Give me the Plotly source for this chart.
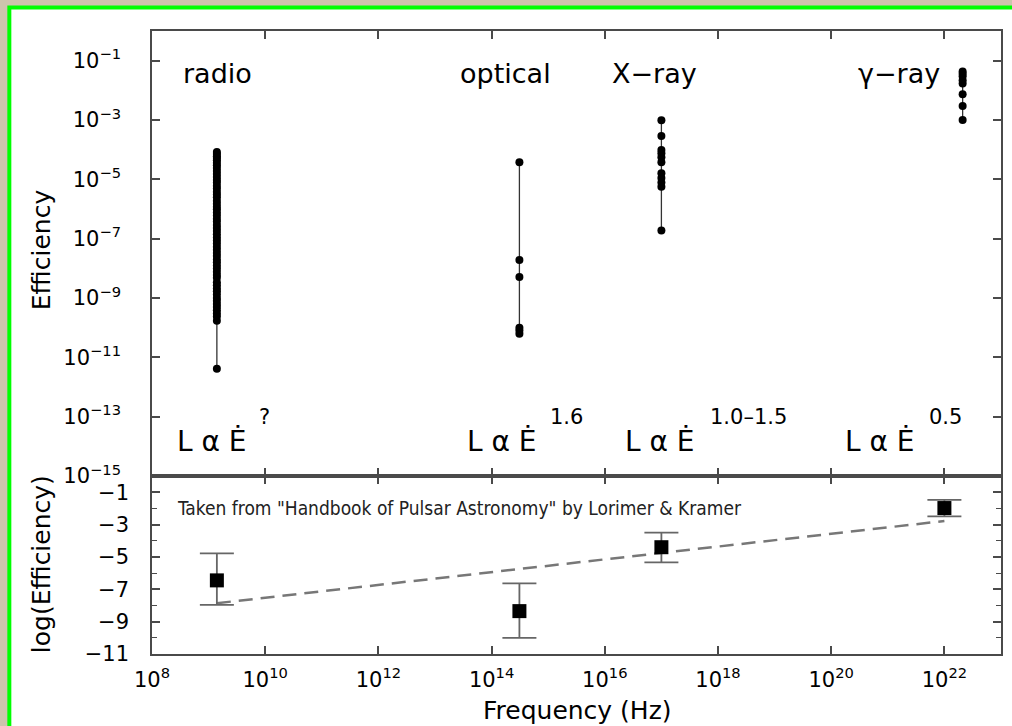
import plotly.graph_objects as go

# ---- data -------------------------------------------------------------
# Top panel: efficiency of individual pulsars in each waveband
radio_freq = 1.4e9
radio_eff = [8.3e-5, 7.1e-5, 6.0e-5, 5.2e-5, 4.4e-5, 3.6e-5, 3.0e-5, 2.4e-5,
             1.9e-5, 1.5e-5, 1.2e-5, 9.5e-6, 7.8e-6, 6.1e-6, 4.9e-6, 3.8e-6,
             3.1e-6, 2.5e-6, 1.9e-6, 1.5e-6, 1.2e-6, 9.8e-7, 7.6e-7, 6.0e-7,
             4.7e-7, 3.8e-7, 2.9e-7, 2.3e-7, 1.8e-7, 1.4e-7, 1.1e-7, 8.7e-8,
             6.9e-8, 5.3e-8, 4.2e-8, 3.3e-8, 2.6e-8, 2.0e-8, 1.6e-8, 1.25e-8,
             9.8e-9, 7.7e-9, 6.0e-9, 4.8e-9, 3.4e-9, 2.7e-9, 2.1e-9, 1.7e-9,
             1.3e-9, 1.0e-9, 8.1e-10, 6.3e-10, 5.0e-10, 3.9e-10, 3.0e-10,
             2.4e-10, 1.7e-10, 4.1e-12]

optical_freq = 3.1e14
optical_eff = [3.8e-5, 1.9e-8, 5.1e-9, 1.0e-10, 8.0e-11, 6.3e-11]

xray_freq = 1.0e17
xray_eff = [9.8e-4, 2.9e-4, 9.8e-5, 7.6e-5, 5.6e-5, 3.8e-5, 1.6e-5, 1.1e-5,
            7.8e-6, 5.6e-6, 1.9e-7]

gamma_freq = 2.1e22
gamma_eff = [4.3e-2, 3.6e-2, 3.0e-2, 2.2e-2, 1.7e-2, 7.4e-3, 2.95e-3, 1.0e-3]

# Bottom panel: mean log(efficiency) per band with spread
band_freq = [1.4e9, 3.1e14, 1.0e17, 1.0e22]
band_logeff = [-6.45, -8.35, -4.40, -1.98]
band_upper = [-4.78, -6.63, -3.50, -1.48]
band_lower = [-7.97, -10.00, -5.34, -2.50]

# Linear fit of log(efficiency) against log(frequency)
fit_freq = [1.4e9, 1.0e22]
fit_logeff = [-7.86, -2.78]

# Band labels and spin-down scaling exponents
band_names = ["radio", "optical", "X\u2212ray", "\u03b3\u2212ray"]
band_name_logx = [9.15, 14.24, 16.87, 21.2]
scaling_exp = ["?", "1.6", "1.0\u20131.5", "0.5"]
scaling_logx = [8.40, 13.53, 16.32, 20.20]
scaling_exp_logx = [9.851, 14.998, 17.818, 21.697]

# Tick labels
eff_exps = [-1, -3, -5, -7, -9, -11, -13, -15]
freq_exps = [8, 10, 12, 14, 16, 18, 20, 22]
logeff_ticks = [-1, -3, -5, -7, -9, -11]

# ---- figure -----------------------------------------------------------
FONT = "DejaVu Sans"
ink = "black"
axis_col = "#4a4a4a"

fig = go.Figure()

for f, vals in [(radio_freq, radio_eff), (optical_freq, optical_eff),
                (xray_freq, xray_eff), (gamma_freq, gamma_eff)]:
    fig.add_trace(go.Scatter(
        x=[f] * len(vals), y=vals, mode="lines+markers",
        line=dict(color="#333333", width=1.3),
        marker=dict(color=ink, size=8, symbol="circle"),
        xaxis="x", yaxis="y", showlegend=False, hoverinfo="skip"))

fig.add_trace(go.Scatter(
    x=fit_freq, y=fit_logeff, mode="lines",
    line=dict(color="#777777", width=2.5, dash="14px,8px"),
    xaxis="x2", yaxis="y2", showlegend=False, hoverinfo="skip"))

fig.add_trace(go.Scatter(
    x=band_freq, y=band_logeff, mode="markers",
    marker=dict(color=ink, size=14, symbol="square"),
    error_y=dict(type="data", symmetric=False,
                 array=[u - c for u, c in zip(band_upper, band_logeff)],
                 arrayminus=[c - l for l, c in zip(band_lower, band_logeff)],
                 color="#666666", thickness=1.8, width=17),
    xaxis="x2", yaxis="y2", showlegend=False, hoverinfo="skip"))

annotations = []
for name, lx in zip(band_names, band_name_logx):
    annotations.append(dict(
        x=lx, y=-1.42, xref="x", yref="y", text=name, showarrow=False,
        xanchor="center", yanchor="middle",
        font=dict(family=FONT, size=27, color=ink)))

# "L α Ė" with the exponent set as a raised label beside it
for lx in scaling_logx:
    annotations.append(dict(
        x=lx, y=-13.85, xref="x", yref="y",
        text="L \u03b1 \u0116", showarrow=False,
        xanchor="left", yanchor="middle",
        font=dict(family=FONT, size=28, color=ink)))
for ex, lx in zip(scaling_exp, scaling_exp_logx):
    annotations.append(dict(
        x=lx, y=-13.01, xref="x", yref="y", text=ex, showarrow=False,
        xanchor="left", yanchor="middle",
        font=dict(family=FONT, size=21, color=ink)))

annotations.append(dict(
    x=8.405, y=-1.98, xref="x2", yref="y2",
    text="Taken from \"Handbook of Pulsar Astronomy\" by Lorimer &amp; Kramer",
    showarrow=False, xanchor="left", yanchor="middle",
    font=dict(family="DejaVu Sans Condensed", size=19, color="#222222")))

annotations += [
    dict(x=-0.1293, y=0.6485, xref="paper", yref="paper", text="Efficiency",
         textangle=-90, showarrow=False, xanchor="center", yanchor="middle",
         font=dict(family=FONT, size=25, color=ink)),
    dict(x=-0.1293, y=0.1445, xref="paper", yref="paper",
         text="log(Efficiency)", textangle=-90, showarrow=False,
         xanchor="center", yanchor="middle",
         font=dict(family=FONT, size=25, color=ink)),
    dict(x=0.5006, y=-0.0899, xref="paper", yref="paper",
         text="Frequency (Hz)", showarrow=False,
         xanchor="center", yanchor="middle",
         font=dict(family=FONT, size=25, color=ink)),
]

# page frame: tan surround with a green edge around the white sheet
shapes = [dict(type="rect", xref="paper", yref="paper",
               x0=-0.16804, x1=1.05, y0=-0.2, y1=1.03772,
               fillcolor="white", line=dict(color="#00ff00", width=4),
               layer="below")]

axis_common = dict(showline=True, linecolor=axis_col, linewidth=1.5,
                   mirror="ticks", ticks="inside", ticklen=8, tickwidth=1.5,
                   tickcolor=axis_col, showgrid=False, zeroline=False)

tick_font = dict(family=FONT, size=21, color=ink)

fig.update_layout(
    width=1012, height=726,
    margin=dict(l=152, r=9, t=31, b=72),
    paper_bgcolor="#cdc4ac", plot_bgcolor="white",
    xaxis=dict(type="log", range=[8, 23], anchor="y", domain=[0, 1],
               tickvals=[10.0 ** e for e in freq_exps],
               showticklabels=False, **axis_common),
    yaxis=dict(type="log", range=[-15, 0], anchor="x", domain=[0.2857, 1],
               tickvals=[10.0 ** e for e in eff_exps],
               ticktext=["10<sup>\u2212%d</sup>" % -e for e in eff_exps],
               tickfont=tick_font, ticklabelstandoff=25, **axis_common),
    xaxis2=dict(type="log", range=[8, 23], anchor="y2", domain=[0, 1],
                tickvals=[10.0 ** e for e in freq_exps],
                ticktext=["10<sup>%d</sup>" % e for e in freq_exps],
                tickfont=tick_font, ticklabelstandoff=6, **axis_common),
    yaxis2=dict(range=[-11, 0], anchor="x2", domain=[0, 0.2857],
                tickvals=logeff_ticks,
                ticktext=["\u2212%d" % -v for v in logeff_ticks],
                tickfont=tick_font, ticklabelstandoff=17,
                minor=dict(dtick=1, tick0=0, ticks="inside", ticklen=5,
                           tickcolor=axis_col, tickwidth=1.2),
                **axis_common),
    annotations=annotations,
    shapes=shapes,
)

fig.write_html("out.html")
